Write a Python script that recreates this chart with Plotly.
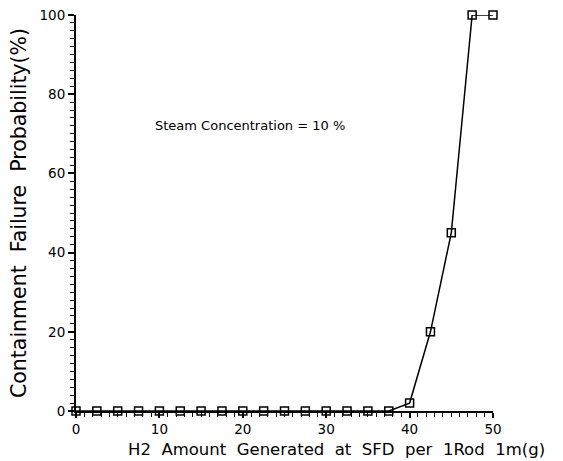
import plotly.graph_objects as go

# H2 generated at SFD per 1 rod 1 m (g) and containment failure probability (%)
h2_amount = [0, 2.5, 5, 7.5, 10, 12.5, 15, 17.5, 20, 22.5, 25, 27.5, 30,
             32.5, 35, 37.5, 40, 42.5, 45, 47.5, 50]
failure_prob = [0, 0, 0, 0, 0, 0, 0, 0, 0, 0, 0, 0, 0,
                0, 0, 0, 2, 20, 45, 100, 100]

x_ticks = [0, 10, 20, 30, 40, 50]
y_ticks = [0, 20, 40, 60, 80, 100]

FONT = "DejaVu Sans"
W, H = 563, 461
ML, MR, MT, MB = 76, 70, 15, 50
PW, PH = W - ML - MR, H - MT - MB

fig = go.Figure()
fig.add_trace(go.Scatter(
    x=h2_amount, y=failure_prob,
    mode="lines+markers",
    line=dict(color="black", width=1.5),
    marker=dict(symbol="square-open", size=8, color="black",
                line=dict(color="black", width=1.5)),
    cliponaxis=False,
    showlegend=False,
))

fig.add_annotation(
    x=20.9, y=72.2, xref="x", yref="y",
    text="Steam Concentration = 10 %",
    showarrow=False,
    font=dict(family=FONT, size=13, color="black"),
)

# x-axis title, sitting right of the plot centre (pixel position -> paper)
fig.add_annotation(
    x=(336 - ML) / PW, y=(H - MB - 449) / PH,
    xref="paper", yref="paper", xanchor="center", yanchor="middle",
    text="H2  Amount  Generated  at  SFD  per  1Rod  1m(g)",
    showarrow=False,
    font=dict(family=FONT, size=16.5, color="black"),
)

axis_common = dict(
    showline=True, linecolor="black", linewidth=2,
    ticks="outside", tickcolor="black", tickwidth=1.5,
    showgrid=False, zeroline=False,
    tickfont=dict(family=FONT, size=13.5, color="black"),
)

fig.update_xaxes(
    range=[0, 50], tickvals=x_ticks, ticklen=5,
    minor=dict(dtick=1, ticks="outside", ticklen=4, tickcolor="black", tickwidth=1),
    **axis_common,
)
fig.update_yaxes(
    range=[0, 100], tickvals=y_ticks, ticklen=6,
    minor=dict(dtick=2, ticks="outside", ticklen=4, tickcolor="black", tickwidth=1),
    title=dict(text="Containment  Failure  Probability(%)",
               font=dict(family=FONT, size=20.5, color="black"), standoff=7),
    **axis_common,
)

fig.update_layout(
    width=W, height=H,
    margin=dict(l=ML, r=MR, t=MT, b=MB, autoexpand=False),
    paper_bgcolor="white", plot_bgcolor="white",
)

fig.write_html("out.html")
